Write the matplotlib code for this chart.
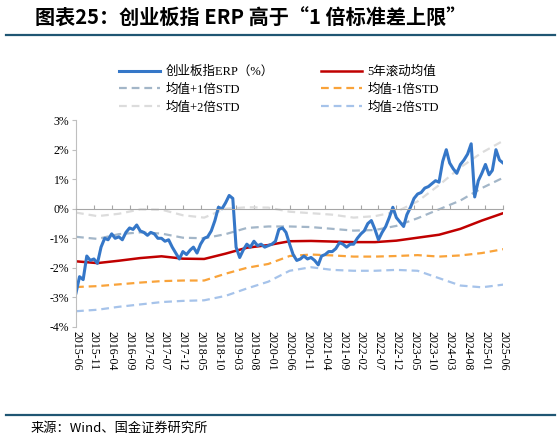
import matplotlib
matplotlib.use('Agg')
from matplotlib import pyplot as plt
from matplotlib.lines import Line2D
import pandas as pd

# x tick labels (every 5 months)
tick_labels = ['2015-06', '2015-11', '2016-04', '2016-09', '2017-02', '2017-07',
               '2017-12', '2018-05', '2018-10', '2019-03', '2019-08', '2020-01',
               '2020-06', '2020-11', '2021-04', '2021-09', '2022-02', '2022-07',
               '2022-12', '2023-05', '2023-10', '2024-03', '2024-08', '2025-01',
               '2025-06']

# ChiNext ERP (%), monthly, 2015-06 .. 2025-06
erp = [-2.85, -2.3, -2.4, -1.6, -1.75, -1.7, -1.85, -1.3, -1.0, -1.05,
       -0.85, -1.0, -0.95, -1.05, -0.8, -0.65, -0.7, -0.55, -0.75, -0.8,
       -0.9, -0.8, -0.85, -1.0, -1.0, -1.1, -1.05, -1.3, -1.5, -1.7,
       -1.45, -1.55, -1.4, -1.3, -1.5, -1.2, -1.0, -0.95, -0.75, -0.4,
       0.05, 0.0, 0.2, 0.45, 0.35, -1.3, -1.65, -1.4, -1.2, -1.3,
       -1.1, -1.25, -1.2, -1.3, -1.25, -1.2, -1.1, -0.7, -0.65, -0.8,
       -1.2, -1.55, -1.75, -1.7, -1.6, -1.7, -1.65, -1.75, -1.9, -1.6,
       -1.55, -1.45, -1.45, -1.35, -1.15, -1.2, -1.3, -1.2, -1.2, -1.0,
       -0.85, -0.75, -0.5, -0.4, -0.7, -1.05, -0.8, -0.6, -0.3, 0.05,
       -0.3, -0.45, -0.6, -0.2, 0.05, 0.35, 0.5, 0.55, 0.7, 0.75,
       0.85, 0.95, 0.9, 1.6, 2.0, 1.55, 1.35, 1.2, 1.5, 1.65,
       1.85, 2.2, 0.4, 0.95, 1.2, 1.5, 1.15, 1.3, 2.0, 1.65,
       1.55]

# smooth bands, sampled every 6 months (2015-06 .. 2025-06)
mean5y = [-1.78, -1.84, -1.76, -1.67, -1.61, -1.69, -1.7, -1.52, -1.32, -1.23,
          -1.1, -1.09, -1.11, -1.13, -1.13, -1.08, -0.98, -0.88, -0.68, -0.4,
          -0.15]
plus1 = [-0.95, -1.02, -0.86, -0.8, -0.84, -0.98, -1.0, -0.86, -0.65, -0.6,
         -0.6, -0.62, -0.68, -0.74, -0.72, -0.58, -0.32, -0.02, 0.28, 0.7,
         1.05]
minus1 = [-2.65, -2.62, -2.56, -2.5, -2.45, -2.43, -2.43, -2.2, -2.0, -1.87,
          -1.6, -1.55, -1.58, -1.62, -1.62, -1.6, -1.57, -1.62, -1.58, -1.5,
          -1.37]
plus2 = [-0.13, -0.25, -0.17, -0.02, -0.03, -0.22, -0.3, 0.0, 0.05, 0.04,
         -0.1, -0.15, -0.2, -0.3, -0.25, -0.1, 0.25, 0.8, 1.4, 1.9,
         2.3]
minus2 = [-3.47, -3.42, -3.32, -3.24, -3.16, -3.12, -3.1, -2.95, -2.7, -2.47,
          -2.1, -1.98, -2.07, -2.1, -2.1, -2.07, -2.1, -2.35, -2.6, -2.66,
          -2.57]

tick_dates = pd.to_datetime(tick_labels)
months = pd.date_range(tick_dates[0], tick_dates[-1], freq='MS')
band_dates = pd.date_range(tick_dates[0], tick_dates[-1], freq='6MS')

serif_cjk = ['Liberation Serif', 'Noto Sans CJK SC']
plt.rcParams['font.family'] = serif_cjk

fig = plt.figure(figsize=(5.59, 4.37), dpi=100)
ax = fig.add_axes((0.136, 0.252, 0.764, 0.473))

dash = (3.5, 2.2)
l_p1, = ax.plot(band_dates, plus1, color='#A3B6C8', lw=1.6, dashes=dash, label='均值+1倍STD')
l_p2, = ax.plot(band_dates, plus2, color='#DCDCDC', lw=1.6, dashes=dash, label='均值+2倍STD')
l_m1, = ax.plot(band_dates, minus1, color='#F9A33A', lw=1.6, dashes=dash, label='均值-1倍STD')
l_m2, = ax.plot(band_dates, minus2, color='#A6C3EA', lw=1.6, dashes=dash, label='均值-2倍STD')
l_mean, = ax.plot(band_dates, mean5y, color='#C00000', lw=1.8, label='5年滚动均值')
l_erp, = ax.plot(months, erp, color='#3577C8', lw=2.2, label='创业板指ERP（%）')

ax.set_xlim(tick_dates[0], tick_dates[-1])
ax.set_ylim(-4, 3)
ax.set_yticks(range(-4, 4))
ax.set_yticklabels([f'{v}%' for v in range(-4, 4)], fontsize=8.5)
ax.tick_params(axis='y', direction='out', length=3, color='#BFBFBF', pad=2)

for s in ('top', 'right'):
    ax.spines[s].set_visible(False)
ax.spines['left'].set_color('#BFBFBF')
ax.spines['bottom'].set_position(('data', 0))
ax.spines['bottom'].set_color('#A6A6A6')
ax.set_xticks(tick_dates)
ax.tick_params(axis='x', direction='in', length=3, color='#A6A6A6', labelbottom=False)

sec = ax.secondary_xaxis('bottom')
sec.set_xticks(tick_dates, tick_labels)
sec.tick_params(length=0, pad=3, labelrotation=270, labelsize=8.5)
sec.spines['bottom'].set_visible(False)

fig.legend(handles=[l_erp, l_p1, l_p2, l_mean, l_m1, l_m2], ncol=2,
           loc='upper left', bbox_to_anchor=(0.213, 0.850), frameon=False,
           fontsize=9, handlelength=3.3, handletextpad=0.4, columnspacing=3.8,
           labelspacing=0.45, borderpad=0, borderaxespad=0)

fig.text(0.063, 0.959, '图表25：创业板指 ERP 高于“1 倍标准差上限”', fontsize=14.5,
         fontweight='bold', family=['Noto Sans CJK SC', 'DejaVu Sans'], va='center')
fig.add_artist(Line2D([0.01, 0.993], [0.92, 0.92], color='#1F5673', lw=1.6))
fig.add_artist(Line2D([0.01, 0.993], [0.051, 0.051], color='#1F5673', lw=1.6))
fig.text(0.054, 0.021, '来源：Wind、国金证券研究所', fontsize=9.5,
         family=['Noto Sans CJK SC', 'DejaVu Sans'], va='center')

fig.savefig('out.png', dpi=100)
